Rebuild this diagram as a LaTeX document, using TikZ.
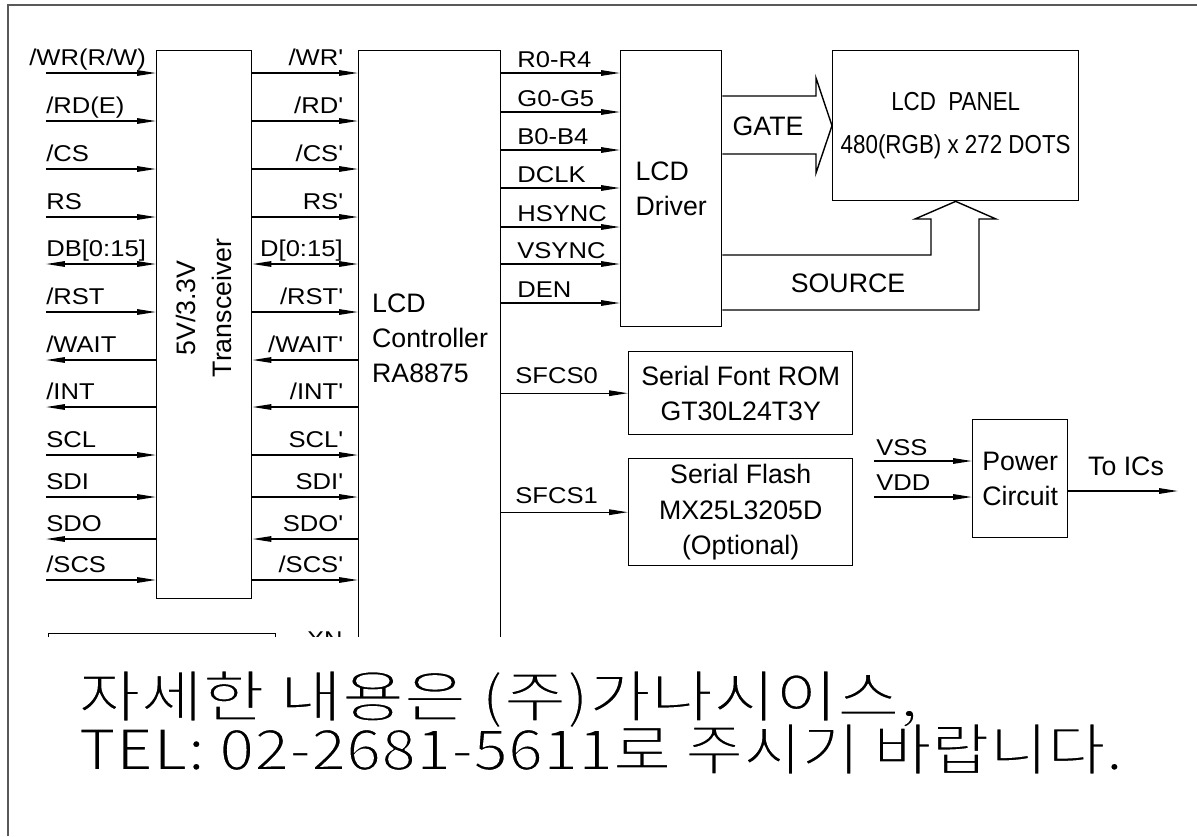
\documentclass[tikz,border=0pt]{standalone}
\usepackage{fontspec}
\setmainfont{Liberation Sans}
\newfontfamily\pinfont[FakeStretch=1.12]{Liberation Sans}
\newfontfamily\narrowfont[FakeStretch=0.86]{Liberation Sans}
\newfontfamily\kofont[FakeBold=3]{Noto Sans CJK KR}
\newcommand\thinko[1]{\special{pdf:bcolor [0] [1]}#1\special{pdf:ecolor}}
\usetikzlibrary{positioning, calc, arrows.meta}
\tikzset{
    blk/.style={rectangle, draw=black, line width=0.8pt, inner sep=0pt, anchor=north west},
    boxtext/.style={align=center, font=\fontsize{15.2}{20}\selectfont},
    pinlbl/.style={font=\pinfont\fontsize{13}{15}\selectfont, inner sep=0pt},
    wire/.style={line width=0.8pt},
    pinin/.style={wire, -{Triangle[length=3.8mm,width=1.1mm]}},
    pinout/.style={wire, {Triangle[length=3.8mm,width=1.1mm]}-},
    pinbi/.style={wire, {Triangle[length=3.8mm,width=1.1mm]}-{Triangle[length=3.8mm,width=1.1mm]}},
    hollow/.style={line width=0.8pt, line join=miter},
}
\begin{document}
\begin{tikzpicture}[x=0.02cm, y=-0.02cm]
    % Cornice
    \useasboundingbox (0,0) rectangle (1197,836);
    \draw[gray!70!black, line width=1.1pt] (8,836) -- (8,5) -- (1197,5);

    \begin{scope}
        \clip (0,0) rectangle (1197,636);

        % 1. TRANSCEIVER e CONTROLLER
        \node[blk, minimum width=1.9cm, minimum height=10.96cm] (trx) at (156,50) {};
        \node[rotate=90, boxtext] (trxtxt) at (204,308) {5V/3.3V\\Transceiver};
        \node[blk, minimum width=2.84cm, minimum height=13cm] (ctrl) at (358,50) {};
        \node[boxtext, align=left, anchor=west] (ctrltxt) at (366,338) {LCD\\Controller\\RA8875};

        % Segnali MCU
        \foreach \sy/\slx/\sa/\sb/\sd in {
            73/29/{/WR(R/W)}/{/WR\textquotesingle}/pinin,
            121/46/{/RD(E)}/{/RD\textquotesingle}/pinin,
            169/46/{/CS}/{/CS\textquotesingle}/pinin,
            217/46/{RS}/{RS\textquotesingle}/pinin,
            264/46/{DB[0:15]}/{D[0:15]}/pinbi,
            312/46/{/RST}/{/RST\textquotesingle}/pinin,
            360/46/{/WAIT}/{/WAIT\textquotesingle}/pinout,
            407/46/{/INT}/{/INT\textquotesingle}/pinout,
            455/46/{SCL}/{SCL\textquotesingle}/pinin,
            497/46/{SDI}/{SDI\textquotesingle}/pinin,
            539/46/{SDO}/{SDO\textquotesingle}/pinout,
            580/46/{/SCS}/{/SCS\textquotesingle}/pinin}{
            \coordinate (pin\sy) at (46,\sy);
            \draw[\sd] (pin\sy) -- (trx.west |- pin\sy);
            \draw[\sd] (trx.east |- pin\sy) -- (ctrl.west |- pin\sy);
            \node[pinlbl, anchor=base west] (la\sy) at (\slx,\sy-8) {\sa};
            \node[pinlbl, anchor=base east] (lb\sy) at (343,\sy-8) {\sb};
        }

        % 2. DRIVER e PANNELLO
        \node[blk, boxtext, align=left, minimum width=2.02cm, minimum height=5.52cm] (drv) at (620,50) {LCD\\Driver};
        \foreach \sy/\ss in {73/R0-R4, 112/G0-G5, 150/B0-B4, 188/DCLK, 227/HSYNC, 264/VSYNC, 303/DEN}{
            \draw[pinin] (ctrl.east |- 0,\sy) -- (drv.west |- 0,\sy);
            \node[pinlbl, anchor=base west] (rgb\sy) at (517,\sy-6) {\ss};
        }
        \node[blk, boxtext, minimum width=4.92cm, minimum height=3cm,
              font=\narrowfont\fontsize{14.8}{18}\selectfont] (pnl) at (832,50)
            {LCD\ \ PANEL\\[6pt]480(RGB) x 272 DOTS};

        % GATE (freccia vuota)
        \draw[hollow] (drv.east |- 0,96) -- (816,96) -- (816,78) -- (pnl.west)
            -- (816,173) -- (816,154) -- (drv.east |- 0,154);
        \node[boxtext] (gate) at (768,126) {GATE};

        % SOURCE (freccia vuota)
        \draw[hollow] (drv.east |- 0,255) -- (931,255) -- (931,219) -- (915,219) -- (pnl.south)
            -- (996,219) -- (979,219) -- (979,310) -- (drv.east |- 0,310);
        \node[boxtext] (source) at (848,283) {SOURCE};

        % 3. MEMORIE SERIALI
        \node[blk, boxtext, minimum width=4.48cm, minimum height=1.66cm] (rom) at (628,351) {Serial Font ROM\\GT30L24T3Y};
        \node[blk, boxtext, minimum width=4.48cm, minimum height=2.14cm] (flash) at (628,458) {Serial Flash\\MX25L3205D\\(Optional)};
        \draw[pinin] (ctrl.east |- rom.west) -- (rom.west);
        \node[pinlbl, anchor=base west] (sf0) at (515,383) {SFCS0};
        \draw[pinin] (ctrl.east |- flash.west) -- (flash.west);
        \node[pinlbl, anchor=base west] (sf1) at (515,503) {SFCS1};

        % 4. ALIMENTAZIONE
        \node[blk, boxtext, minimum width=1.9cm, minimum height=2.36cm] (pwr) at (972,419) {Power\\Circuit};
        \coordinate (vss) at (874,461);
        \coordinate (vdd) at (874,497);
        \coordinate (ics) at (1178,491);
        \draw[pinin] (vss) -- (pwr.west |- vss);
        \draw[pinin] (vdd) -- (pwr.west |- vdd);
        \draw[pinin] (pwr.east |- ics) -- (ics);
        \node[pinlbl, anchor=base west] (vsslbl) at (876,455) {VSS};
        \node[pinlbl, anchor=base west] (vddlbl) at (876,490) {VDD};
        \node[boxtext, anchor=base west] (icslbl) at (1082,475) {To ICs};

        % Parte tagliata
        \node[blk, minimum width=4.54cm, minimum height=2cm] (xtal) at (48,633) {};
        \node[pinlbl, anchor=north east] (xn) at (343,631) {XN};
    \end{scope}

    % Nota in coreano
    \node[anchor=base west, inner sep=0pt, font=\kofont\fontsize{32}{36}\selectfont] (note1) at (78,717)
        {\resizebox{16.8cm}{\height}{\thinko{자세한 내용은 (주)가나시이스,}}};
    \node[anchor=base west, inner sep=0pt, font=\kofont\fontsize{32}{36}\selectfont] (note2) at (78,770)
        {\resizebox{20.9cm}{\height}{\thinko{TEL: 02-2681-5611로 주시기 바랍니다.}}};
\end{tikzpicture}
\end{document}
